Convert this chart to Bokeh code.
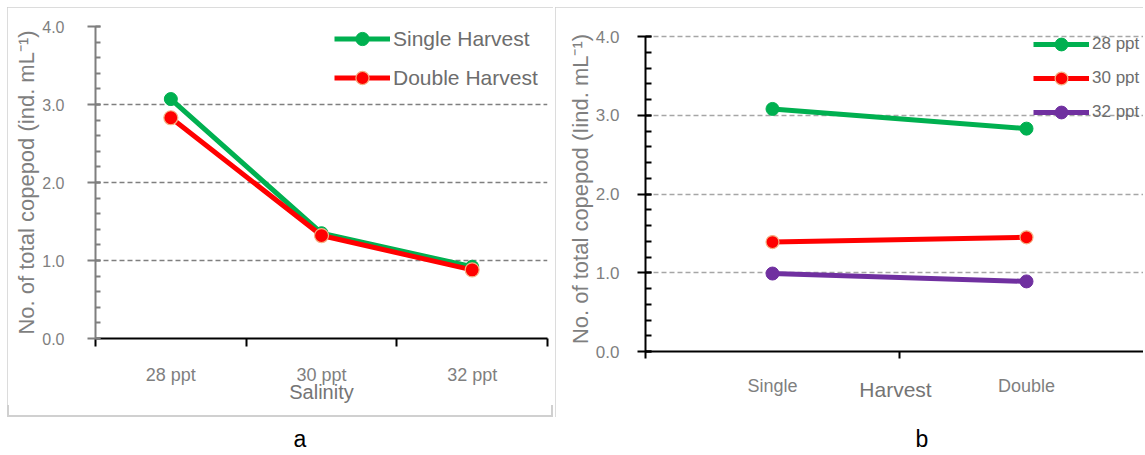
from bokeh.plotting import figure
from bokeh.models import (Range1d, FixedTicker, SingleIntervalTicker, NumeralTickFormatter,
                          Legend, LegendItem, Div)
from bokeh.layouts import row, column
from bokeh.embed import file_html
from bokeh.resources import INLINE

# ---------------- data ----------------
salinity = ["28 ppt", "30 ppt", "32 ppt"]
single_harvest = [3.07, 1.35, 0.92]
double_harvest = [2.83, 1.32, 0.88]

harvest = ["Single", "Double"]
ppt28 = [3.08, 2.83]
ppt30 = [1.39, 1.45]
ppt32 = [0.99, 0.89]

panel_labels = ["a", "b"]

FONT = "Liberation Sans"
GREY = "#7f7f7f"
GREEN = "#00B050"
RED = "#FF0000"
PURPLE = "#7030A0"
RED_EDGE = "#F4B183"
BORDER = "2px solid #d0d0d0"


def style_common(p):
    p.outline_line_color = None
    p.background_fill_color = "white"
    p.border_fill_color = "white"


# ---------------- panel a ----------------
pa = figure(width=546, height=398, x_range=Range1d(-0.5, 2.5), y_range=Range1d(0, 4),
            output_backend="svg", toolbar_location=None,
            min_border_left=88, min_border_right=6, min_border_top=19, min_border_bottom=66)
style_common(pa)

xa = pa.xaxis[0]
xa.ticker = FixedTicker(ticks=list(range(len(salinity))),
                        minor_ticks=[i - 0.5 for i in range(len(salinity) + 1)])
xa.major_label_overrides = {i: s for i, s in enumerate(salinity)}
xa.major_tick_in = 0
xa.major_tick_out = 0
xa.minor_tick_in = 0
xa.minor_tick_out = 8
xa.minor_tick_line_color = "black"
xa.minor_tick_line_width = 2
xa.axis_line_color = "black"
xa.axis_line_width = 2
xa.major_label_text_font = FONT
xa.major_label_text_font_size = "18px"
xa.major_label_text_color = GREY
xa.major_label_standoff = 18
xa.axis_label = "Salinity"
xa.axis_label_text_font = FONT
xa.axis_label_text_font_size = "20px"
xa.axis_label_text_font_style = "normal"
xa.axis_label_text_color = "#757575"
xa.axis_label_standoff = -7

ya = pa.yaxis[0]
ya.ticker = SingleIntervalTicker(interval=1, num_minor_ticks=5)
ya.formatter = NumeralTickFormatter(format="0.0")
ya.axis_line_color = GREY
ya.axis_line_width = 2
ya.major_tick_line_color = GREY
ya.major_tick_line_width = 2
ya.major_tick_out = 8
ya.major_tick_in = 5
ya.minor_tick_line_color = GREY
ya.minor_tick_line_width = 2
ya.minor_tick_in = 5
ya.minor_tick_out = 0
ya.major_label_text_font = FONT
ya.major_label_text_font_size = "16px"
ya.major_label_text_color = GREY
ya.major_label_standoff = 23
ya.axis_label = "No. of total copepod (ind. mL\u207b\u00b9)"
ya.axis_label_text_font = FONT
ya.axis_label_text_font_size = "22px"
ya.axis_label_text_font_style = "normal"
ya.axis_label_text_color = GREY
ya.axis_label_standoff = 0

pa.xgrid.visible = False
pa.ygrid.ticker = SingleIntervalTicker(interval=1)
pa.ygrid.grid_line_color = GREY
pa.ygrid.grid_line_width = 1.5
pa.ygrid.grid_line_dash = "5 3"

xs_a = list(range(len(salinity)))
l1 = pa.line(xs_a, single_harvest, line_color=GREEN, line_width=5)
s1 = pa.scatter(xs_a, single_harvest, size=13, fill_color=GREEN, line_color=GREEN, line_width=1)
l2 = pa.line(xs_a, double_harvest, line_color=RED, line_width=5)
s2 = pa.scatter(xs_a, double_harvest, size=14, fill_color=RED, line_color=RED_EDGE, line_width=1.2)

leg_a = Legend(items=[LegendItem(label="Single Harvest", renderers=[l1, s1]),
                      LegendItem(label="Double Harvest", renderers=[l2, s2])],
               location=(239, 244), padding=0, margin=0, spacing=6,
               glyph_width=56, glyph_height=33, label_height=33, label_standoff=3,
               label_text_font=FONT, label_text_font_size="21px", label_text_color="#6d6d6d",
               border_line_alpha=0, background_fill_alpha=0)
pa.add_layout(leg_a)

# ---------------- panel b ----------------
pb = figure(width=590, height=410, x_range=Range1d(-0.5, 1.4685), y_range=Range1d(0, 4.127),
            output_backend="svg", toolbar_location=None,
            min_border_left=90, min_border_right=0, min_border_top=19, min_border_bottom=66)
style_common(pb)

xb = pb.xaxis[0]
xb.ticker = FixedTicker(ticks=list(range(len(harvest))),
                        minor_ticks=[i - 0.5 for i in range(len(harvest) + 1)])
xb.major_label_overrides = {i: s for i, s in enumerate(harvest)}
xb.major_tick_in = 0
xb.major_tick_out = 0
xb.minor_tick_in = 0
xb.minor_tick_out = 7
xb.minor_tick_line_color = "black"
xb.minor_tick_line_width = 2
xb.axis_line_color = "black"
xb.axis_line_width = 2
xb.major_label_text_font = FONT
xb.major_label_text_font_size = "18px"
xb.major_label_text_color = GREY
xb.major_label_standoff = 17
xb.axis_label = "Harvest"
xb.axis_label_text_font = FONT
xb.axis_label_text_font_size = "21px"
xb.axis_label_text_font_style = "normal"
xb.axis_label_text_color = "#757575"
xb.axis_label_standoff = -21

yb = pb.yaxis[0]
yb.bounds = (0, 4)
yb.ticker = SingleIntervalTicker(interval=1, num_minor_ticks=5)
yb.formatter = NumeralTickFormatter(format="0.0")
yb.axis_line_color = "black"
yb.axis_line_width = 2
yb.major_tick_line_color = "black"
yb.major_tick_line_width = 2
yb.major_tick_out = 8
yb.major_tick_in = 6
yb.minor_tick_line_color = "black"
yb.minor_tick_line_width = 2
yb.minor_tick_in = 6
yb.minor_tick_out = 0
yb.major_label_text_font = FONT
yb.major_label_text_font_size = "17px"
yb.major_label_text_color = GREY
yb.major_label_standoff = 18
yb.axis_label = "No. of total copepod (Iind. mL\u207b\u00b9)"
yb.axis_label_text_font = FONT
yb.axis_label_text_font_size = "22px"
yb.axis_label_text_font_style = "normal"
yb.axis_label_text_color = GREY
yb.axis_label_standoff = 0

pb.xgrid.visible = False
pb.ygrid.ticker = SingleIntervalTicker(interval=1)
pb.ygrid.grid_line_color = "#a6a6a6"
pb.ygrid.grid_line_width = 1.5
pb.ygrid.grid_line_dash = "5 3"

xs_b = list(range(len(harvest)))
b1 = pb.line(xs_b, ppt28, line_color=GREEN, line_width=5)
bs1 = pb.scatter(xs_b, ppt28, size=13, fill_color=GREEN, line_color=GREEN, line_width=1)
b2 = pb.line(xs_b, ppt30, line_color=RED, line_width=5)
bs2 = pb.scatter(xs_b, ppt30, size=13, fill_color=RED, line_color=RED_EDGE, line_width=1.2)
b3 = pb.line(xs_b, ppt32, line_color=PURPLE, line_width=5)
bs3 = pb.scatter(xs_b, ppt32, size=13, fill_color=PURPLE, line_color=PURPLE, line_width=1)

leg_b = Legend(items=[LegendItem(label=salinity[0], renderers=[b1, bs1]),
                      LegendItem(label=salinity[1], renderers=[b2, bs2]),
                      LegendItem(label=salinity[2], renderers=[b3, bs3])],
               location=(388, 223), padding=0, margin=0, spacing=2,
               glyph_width=56, glyph_height=32, label_height=32, label_standoff=3,
               label_text_font=FONT, label_text_font_size="17px", label_text_color="#6d6d6d",
               border_line_alpha=0, background_fill_alpha=0)
pb.add_layout(leg_b)

# ---------------- bordered panels ----------------
box_a = column(pa, width=546, height=410, margin=(7, 2, 0, 7),
               styles={"outline": BORDER, "outline-offset": "-2px"})
box_b = column(pb, width=590, height=410, margin=(7, 0, 0, 0),
               styles={"outline": BORDER, "outline-offset": "-2px",
                       "clip-path": "inset(0px 2px 0px 0px)"})

# ---------------- panel captions ----------------
span_style = "position:absolute;left:{}px;top:9px;transform:translateX(-50%);"
caption_html = (
    "<div style=\"position:relative;width:1145px;height:38px;font-family:'Liberation Sans';"
    "font-size:23px;line-height:26px;color:black;\">"
    + "<span style=\"" + span_style.format(300) + "\">" + panel_labels[0] + "</span>"
    + "<span style=\"" + span_style.format(922) + "\">" + panel_labels[1] + "</span>"
    + "</div>"
)
captions = Div(text=caption_html, width=1145, height=38, margin=0)

layout = column(row(box_a, box_b), captions)
open("out.html", "w").write(file_html(layout, INLINE))
